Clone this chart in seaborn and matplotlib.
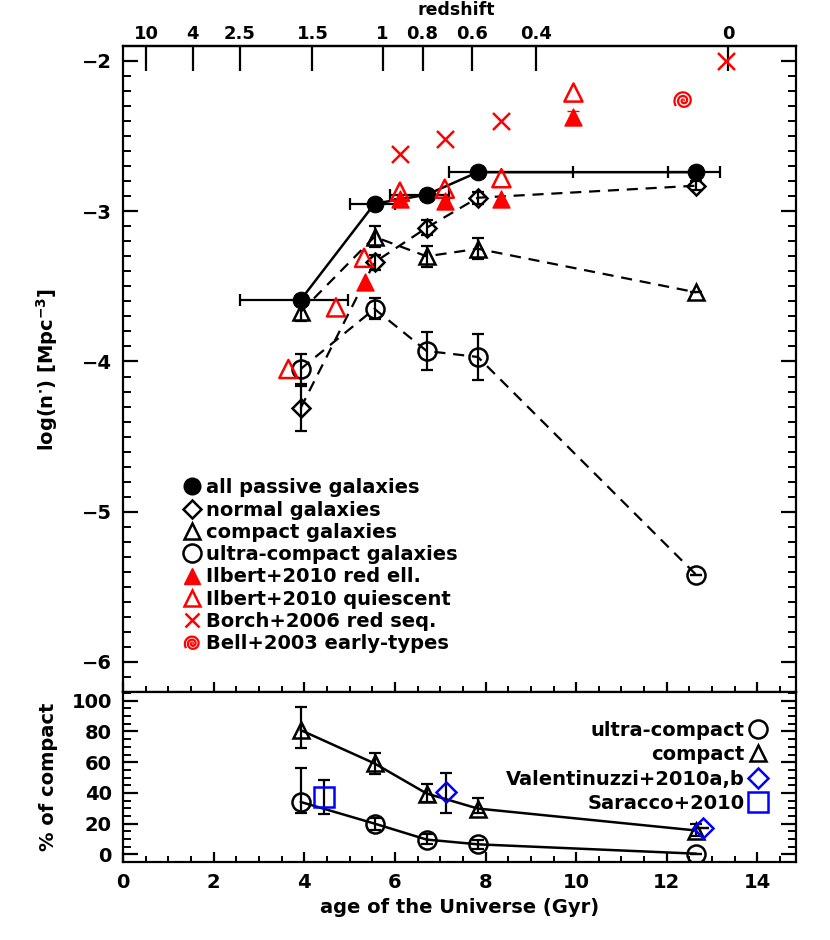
import numpy as np
import pandas as pd
import matplotlib
matplotlib.use("Agg")
import matplotlib.pyplot as plt
from matplotlib.path import Path
from matplotlib.lines import Line2D
from matplotlib.ticker import MultipleLocator
import seaborn as sns

# ---- data ----
age_bins = [3.92, 5.55, 6.70, 7.83, 12.65]
all_passive = [-3.59, -2.95, -2.89, -2.74, -2.74]
all_age_lo = [2.58, 5.00, 5.90, 7.20, 12.03]
all_age_hi = [4.97, 6.00, 7.20, 9.93, 13.17]
normal = [-4.31, -3.34, -3.11, -2.91, -2.83]
normal_err = [0.15, 0.05, 0.05, 0.04, 0.03]
compact = [-3.67, -3.17, -3.30, -3.25, -3.54]
compact_err = [0.06, 0.07, 0.07, 0.07, 0.0]
ultra = [-4.05, -3.65, -3.93, -3.97, -5.42]
ultra_err = [0.10, 0.07, 0.125, 0.155, 0.0]

ilbert_q_age = [3.65, 4.70, 5.32, 6.11, 7.10, 8.35, 9.94]
ilbert_q = [-4.05, -3.64, -3.31, -2.87, -2.85, -2.78, -2.21]
ilbert_e_age = [5.34, 6.11, 7.10, 8.35, 9.94]
ilbert_e = [-3.47, -2.92, -2.93, -2.92, -2.37]
borch_age = [6.11, 7.10, 8.35, 13.30]
borch = [-2.62, -2.52, -2.40, -2.00]
bell_age = [12.35]
bell = [-2.26]

compact_pct = [80.9, 59.2, 39.6, 29.8, 15.5]
compact_pct_lo = [69.0, 52.5, 34.0, 26.7, 12.0]
compact_pct_hi = [96.0, 66.0, 45.5, 36.5, 20.0]
ultra_pct = [34.1, 20.0, 9.6, 6.5, 0.4]
ultra_pct_lo = [27.0, 16.0, 6.5, 3.3, 0.4]
ultra_pct_hi = [55.9, 23.9, 13.0, 9.6, 0.4]
valent_age = [7.13, 12.79]
valent_pct = [40.6, 17.2]
valent_lo = [27.0, 17.2]
valent_hi = [53.0, 17.2]
saracco_age = [4.44]
saracco_pct = [37.4]
saracco_lo = [26.5]
saracco_hi = [48.6]

z_labels = ["10", "4", "2.5", "1.5", "1", "0.8", "0.6", "0.4", "0"]
z_ages = [0.51, 1.54, 2.58, 4.18, 5.73, 6.61, 7.71, 9.12, 13.35]

# ---- style ----
sns.set_style("ticks")
plt.rcParams["font.family"] = ["DejaVu Sans"]
plt.rcParams["font.weight"] = "bold"
plt.rcParams["axes.labelweight"] = "bold"
plt.rcParams["axes.linewidth"] = 1.6
for k in ["text.color", "axes.labelcolor", "xtick.color", "ytick.color", "axes.edgecolor"]:
    plt.rcParams[k] = "black"
plt.rcParams["xtick.direction"] = "in"
plt.rcParams["ytick.direction"] = "in"
plt.rcParams["xtick.top"] = False
plt.rcParams["ytick.right"] = True

FS = 14
DASH = (0, (5, 3.5))

# spiral marker for Bell+2003
t = np.linspace(0, 5.2 * np.pi, 120)
r = t / t.max()
spiral = Path(np.column_stack([r * np.cos(t), r * np.sin(t)]))

fig = plt.figure(figsize=(8.3, 9.4), dpi=100)
ax = fig.add_axes([0.1482, 0.2638, 0.8108, 0.6873])
ax2 = fig.add_axes([0.1482, 0.083, 0.8108, 0.1808], sharex=ax)

ek = dict(fmt="none", ecolor="k", elinewidth=1.6, capsize=4, capthick=1.6)

# main panel
df = pd.DataFrame({"age": age_bins, "all": all_passive, "normal": normal,
                   "compact": compact, "ultra": ultra})
sns.lineplot(data=df, x="age", y="all", ax=ax, color="k", lw=1.8, sort=False,
             marker="o", markersize=12, markerfacecolor="k", markeredgecolor="k")
for col, mk, err in [("normal", "D", normal_err), ("compact", "^", compact_err),
                     ("ultra", "o", ultra_err)]:
    ax.errorbar(df["age"], df[col], yerr=err, **ek)
    sns.lineplot(data=df, x="age", y=col, ax=ax, color="k", lw=1.6, sort=False,
                 linestyle=DASH, marker=mk,
                 markersize={"D": 9, "^": 12, "o": 13}[mk],
                 markerfacecolor="none", markeredgecolor="k", markeredgewidth=1.8)
xerr = [np.array(age_bins) - np.array(all_age_lo), np.array(all_age_hi) - np.array(age_bins)]
ax.errorbar(age_bins, all_passive, xerr=xerr, **ek)

sns.scatterplot(x=ilbert_e_age, y=ilbert_e, ax=ax, marker="^", s=150,
                color="red", edgecolor="red", linewidth=1.0, zorder=4)
sns.scatterplot(x=ilbert_q_age, y=ilbert_q, ax=ax, marker="^", s=170,
                facecolor="none", edgecolor="red", linewidth=1.8, zorder=4)
ax.errorbar(ilbert_e_age[-1:], ilbert_e[-1:], yerr=0.04, fmt="none", ecolor="red",
            elinewidth=1.5, capsize=4)
sns.scatterplot(x=borch_age, y=borch, ax=ax, marker="x", s=150, color="red",
                linewidth=1.8, zorder=4)
ax.plot(bell_age, bell, linestyle="none", marker=spiral, markersize=13,
        markerfacecolor="none", markeredgecolor="red", markeredgewidth=1.6)

ax.set_xlim(0, 14.85)
ax.set_ylim(-6.2, -1.9)
ax.yaxis.set_major_locator(MultipleLocator(1))
ax.yaxis.set_minor_locator(MultipleLocator(0.1))
ax.xaxis.set_major_locator(MultipleLocator(2))
ax.xaxis.set_minor_locator(MultipleLocator(0.5))
ax.tick_params(axis="y", which="major", length=11, width=1.6, labelsize=FS, pad=8)
ax.tick_params(axis="y", which="minor", length=6, width=1.4)
ax.tick_params(axis="x", which="major", length=7, width=1.6, labelbottom=False)
ax.tick_params(axis="x", which="minor", length=4, width=1.4)
ax.set_yticks([-2, -3, -4, -5, -6])
ax.set_yticklabels(["\u22122", "\u22123", "\u22124", "\u22125", "\u22126"])
ax.set_ylabel("log(n$^{\\cdot}$) [Mpc$^{-3}$]", fontsize=FS, labelpad=16)
ax.set_xlabel("")

top = ax.secondary_xaxis("top")
top.set_xticks(z_ages)
top.set_xticklabels(z_labels)
top.tick_params(direction="in", length=18, width=1.6, labelsize=13, pad=2)
fig.text(0.55, 0.999, "redshift", ha="center", va="top", fontsize=12.5)

leg_handles = [
    Line2D([], [], ls="none", marker="o", ms=12, mfc="k", mec="k"),
    Line2D([], [], ls="none", marker="D", ms=9, mfc="none", mec="k", mew=1.8),
    Line2D([], [], ls="none", marker="^", ms=12, mfc="none", mec="k", mew=1.8),
    Line2D([], [], ls="none", marker="o", ms=13, mfc="none", mec="k", mew=1.8),
    Line2D([], [], ls="none", marker="^", ms=12, mfc="red", mec="red"),
    Line2D([], [], ls="none", marker="^", ms=12, mfc="none", mec="red", mew=1.8),
    Line2D([], [], ls="none", marker="x", ms=10, mec="red", mew=1.8),
    Line2D([], [], ls="none", marker=spiral, ms=11, mfc="none", mec="red", mew=1.6),
]
leg_labels = ["all passive galaxies", "normal galaxies", "compact galaxies",
              "ultra-compact galaxies", "Ilbert+2010 red ell.",
              "Ilbert+2010 quiescent", "Borch+2006 red seq.",
              "Bell+2003 early-types"]
ax.legend(leg_handles, leg_labels, loc="upper left", bbox_to_anchor=(0.078, 0.343),
          frameon=False, fontsize=FS, handlelength=0.9, handletextpad=0.25,
          labelspacing=0.17, borderaxespad=0)

# bottom panel
dp = pd.DataFrame({"age": age_bins, "compact": compact_pct, "ultra": ultra_pct})
for col, lo, hi in [("compact", compact_pct_lo, compact_pct_hi),
                    ("ultra", ultra_pct_lo, ultra_pct_hi)]:
    v = np.array(dp[col])
    ax2.errorbar(age_bins, v, yerr=[v - np.array(lo), np.array(hi) - v], **ek)
sns.lineplot(data=dp, x="age", y="compact", ax=ax2, color="k", lw=1.8, sort=False,
             marker="^", markersize=12, markerfacecolor="none",
             markeredgecolor="k", markeredgewidth=1.8)
sns.lineplot(data=dp, x="age", y="ultra", ax=ax2, color="k", lw=1.8, sort=False,
             marker="o", markersize=13, markerfacecolor="none",
             markeredgecolor="k", markeredgewidth=1.8)
ve = np.array(valent_pct)
ax2.errorbar(valent_age, valent_pct, yerr=[ve - np.array(valent_lo), np.array(valent_hi) - ve], **ek)
ax2.plot(valent_age, valent_pct, ls="none", marker="D", ms=10, mfc="none",
         mec="blue", mew=1.8)
se = np.array(saracco_pct)
ax2.errorbar(saracco_age, saracco_pct, yerr=[se - np.array(saracco_lo), np.array(saracco_hi) - se], **ek)
ax2.plot(saracco_age, saracco_pct, ls="none", marker="s", ms=15, mfc="none",
         mec="blue", mew=1.8)

ax2.set_ylim(-5, 105.7)
ax2.set_yticks([0, 20, 40, 60, 80, 100])
ax2.yaxis.set_minor_locator(MultipleLocator(5))
ax2.tick_params(axis="y", which="major", length=11, width=1.6, labelsize=FS, pad=8)
ax2.tick_params(axis="y", which="minor", length=6, width=1.4)
ax2.tick_params(axis="x", which="major", length=7, width=1.6, labelsize=FS, pad=8)
ax2.tick_params(axis="x", which="minor", length=4, width=1.4)
ax2.set_xticks([0, 2, 4, 6, 8, 10, 12, 14])
ax2.set_xlabel("age of the Universe (Gyr)", fontsize=FS, labelpad=4)
ax2.set_ylabel("% of compact", fontsize=FS, labelpad=10)

h2 = [
    Line2D([], [], ls="none", marker="o", ms=13, mfc="none", mec="k", mew=1.8),
    Line2D([], [], ls="none", marker="^", ms=12, mfc="none", mec="k", mew=1.8),
    Line2D([], [], ls="none", marker="D", ms=10, mfc="none", mec="blue", mew=1.8),
    Line2D([], [], ls="none", marker="s", ms=15, mfc="none", mec="blue", mew=1.8),
]
l2 = ["ultra-compact", "compact", "Valentinuzzi+2010a,b", "Saracco+2010"]
ax2.legend(h2, l2, loc="upper right", bbox_to_anchor=(0.968, 0.875), frameon=False,
           fontsize=FS, markerfirst=False, alignment="right", handlelength=0.9,
           handletextpad=0.25, labelspacing=0.27, borderaxespad=0)

for a in (ax, ax2):
    for s in a.spines.values():
        s.set_linewidth(1.6)

fig.savefig("out.png", dpi=100)
